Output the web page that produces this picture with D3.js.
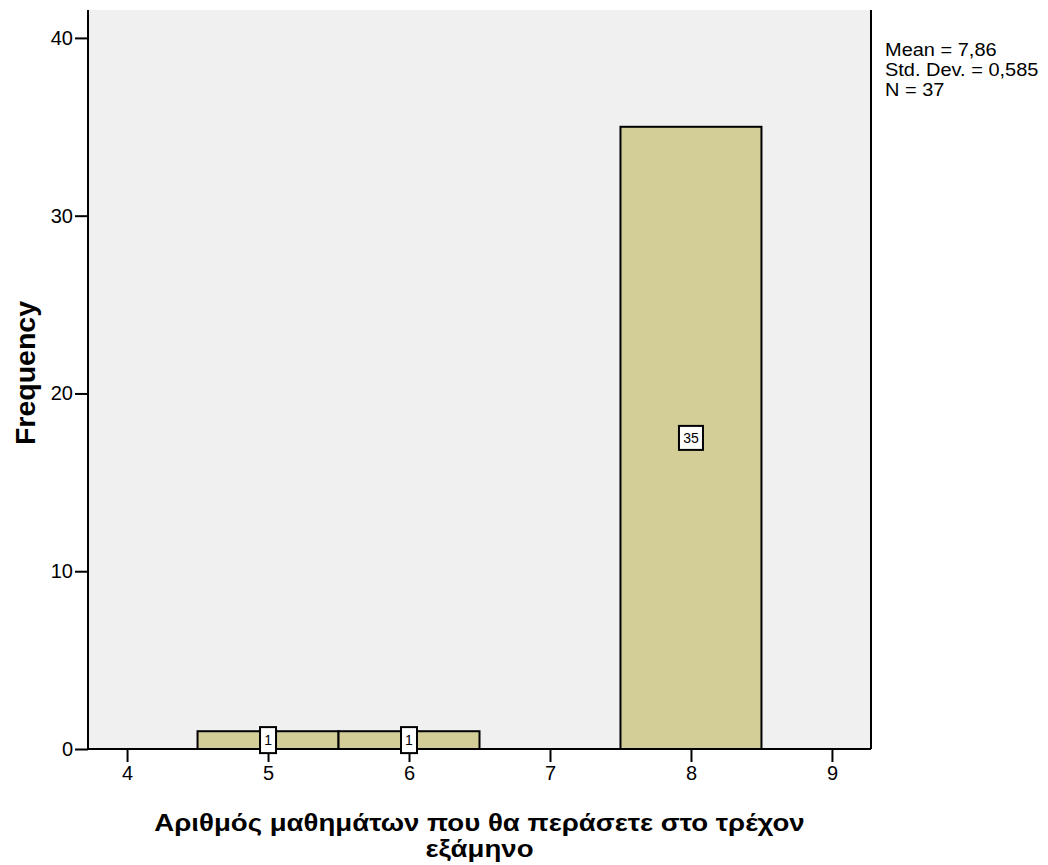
<!DOCTYPE html>
<html>
<head>
<meta charset="utf-8">
<script src="https://cdn.jsdelivr.net/npm/d3@7"></script>
<style>
  body { margin: 0; background: #fff; }
  svg { font-family: "Liberation Sans", Arial, sans-serif; }
</style>
</head>
<body>
<div id="chart"></div>
<script>
const binCenters = [5, 6, 8];
const frequencies = [1, 1, 35];
const xTicks = [4, 5, 6, 7, 8, 9];
const yTicks = [0, 10, 20, 30, 40];
const statLines = ["Mean = 7,86", "Std. Dev. = 0,585", "N = 37"];
const xTitleLines = ["Αριθμός μαθημάτων που θα περάσετε στο τρέχον", "εξάμηνο"];
const yTitle = "Frequency";

const width = 1048, height = 865;
const margin = { top: 10, right: 177, bottom: 116, left: 88 };
const innerW = width - margin.left - margin.right;
const innerH = height - margin.top - margin.bottom;

const svg = d3.select("#chart").append("svg").attr("width", width).attr("height", height);
const g = svg.append("g").attr("transform", `translate(${margin.left},${margin.top})`);

const x = d3.scaleLinear().domain([3.723, 9.277]).range([0, innerW]);
const y = d3.scaleLinear().domain([0, 41.57]).range([innerH, 0]);

g.append("rect").attr("width", innerW).attr("height", innerH).attr("fill", "#f0f0f0");

// bars
g.selectAll(".bar")
  .data(binCenters.map((c, i) => ({ c, f: frequencies[i] })))
  .enter().append("rect")
  .attr("class", "bar")
  .attr("x", d => x(d.c - 0.5))
  .attr("y", d => y(d.f))
  .attr("width", d => x(d.c + 0.5) - x(d.c - 0.5))
  .attr("height", d => y(0) - y(d.f))
  .attr("fill", "#d3ce97")
  .attr("stroke", "#000")
  .attr("stroke-width", 2);

// right border
g.append("line").attr("x1", innerW).attr("x2", innerW).attr("y1", 0).attr("y2", innerH)
  .attr("stroke", "#000").attr("stroke-width", 2);

// axes
const xAxis = g.append("g").attr("transform", `translate(0,${innerH})`)
  .call(d3.axisBottom(x).tickValues(xTicks).tickSize(13).tickPadding(4).tickFormat(d3.format("d")));
const yAxis = g.append("g")
  .call(d3.axisLeft(y).tickValues(yTicks).tickSize(13).tickPadding(2).tickFormat(d3.format("d")));
[xAxis, yAxis].forEach(a => {
  a.select(".domain").attr("stroke", "#000").attr("stroke-width", 2);
  a.selectAll(".tick line").attr("stroke", "#000").attr("stroke-width", 2);
  a.selectAll(".tick text").attr("fill", "#000").style("font-size", "20px")
    .style("font-family", "'Liberation Sans', Arial, sans-serif");
});
xAxis.select(".domain").attr("d", `M0,0H${innerW}`);
yAxis.select(".domain").attr("d", `M0,0V${innerH}`);

// value labels
const labels = g.selectAll(".lbl")
  .data(binCenters.map((c, i) => ({ c, f: frequencies[i] })))
  .enter().append("g")
  .attr("transform", d => `translate(${x(d.c)},${y(d.f / 2)})`);
labels.append("rect")
  .attr("x", d => d.f < 10 ? -8 : -12)
  .attr("y", d => d.f < 10 ? -13 : -12)
  .attr("width", d => d.f < 10 ? 16 : 24)
  .attr("height", d => d.f < 10 ? 26 : 24)
  .attr("fill", "#fff").attr("stroke", "#000").attr("stroke-width", 2);
labels.append("text")
  .attr("text-anchor", "middle").attr("dy", "0.36em")
  .style("font-size", "14px").attr("fill", "#000")
  .text(d => d.f);

// stats (slightly widened like the original renderer)
const st = svg.append("g").attr("transform", "translate(885,0) scale(1.08,1)")
  .append("text").style("font-size", "18.5px").attr("fill", "#000");
statLines.forEach((s, i) => st.append("tspan").attr("x", 0).attr("y", 56 + i * 20).text(s));

// titles
const xt = svg.append("g")
  .attr("transform", `translate(${margin.left + innerW / 2},0) scale(1.15,1)`)
  .append("text").attr("text-anchor", "middle").style("font-size", "24px")
  .style("font-weight", "bold").attr("fill", "#000");
xTitleLines.forEach((s, i) => xt.append("tspan").attr("x", 0).attr("y", 831 + i * 26).text(s));

svg.append("text")
  .attr("transform", `translate(35,${373}) rotate(-90)`)
  .attr("text-anchor", "middle").style("font-size", "28.5px").style("font-weight", "bold")
  .attr("fill", "#000").text(yTitle);
</script>
</body>
</html>
